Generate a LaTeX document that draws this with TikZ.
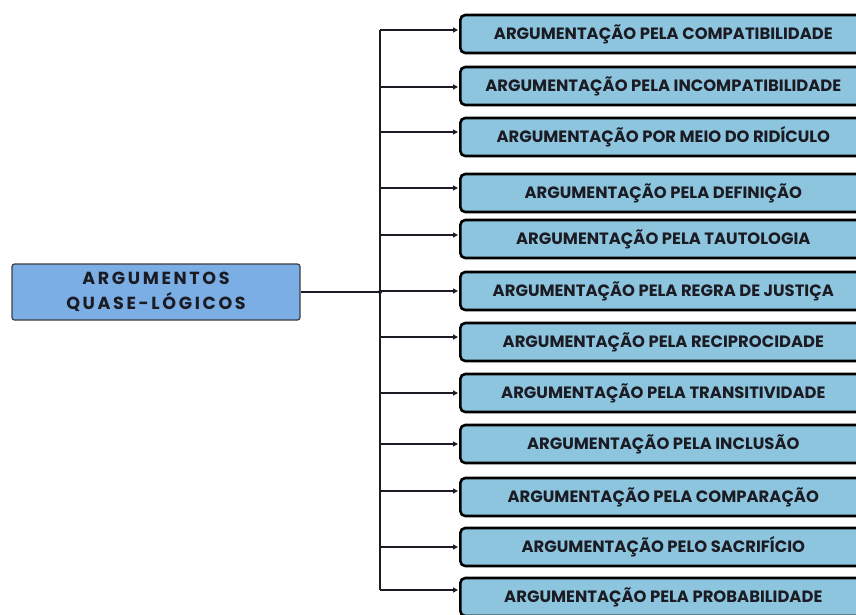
\documentclass[tikz,border=0pt]{standalone}
\usepackage{fontspec}
\setmainfont{Poppins}[BoldFont={* Bold}]
\newfontfamily\spaced{Poppins}[BoldFont={* Bold},LetterSpace=15]
\usetikzlibrary{arrows.meta}
\definecolor{itemfill}{HTML}{8EC5DE}
\definecolor{rootfill}{HTML}{7AAEE5}
\definecolor{ink}{HTML}{1B1B24}
\tikzset{
  itembox/.style={draw=black, line width=2.6pt, fill=itemfill, rounded corners=5pt,
    minimum width=406pt, minimum height=38pt, inner sep=0pt, anchor=west,
    font=\bfseries\fontsize{16.4}{18}\selectfont, text=ink},
  rootbox/.style={draw=ink!85, line width=1.2pt, fill=rootfill, rounded corners=2.5pt,
    minimum width=288pt, minimum height=56pt, inner sep=0pt, align=center,
    font=\spaced\bfseries\fontsize{17.5}{25}\selectfont, text=ink},
  link/.style={line width=1.4pt, draw=ink},
  tip/.style={-{Triangle[length=5pt,width=5pt]}}
}
\begin{document}
\begin{tikzpicture}[x=1pt,y=-1pt]
\useasboundingbox (0,0) rectangle (856,614);
\clip (0,0) rectangle (856,614);
% root node
\node[rootbox] (root) at (156,292) {ARGUMENTOS\\QUASE-LÓGICOS};
% spine of the bracket
\coordinate (top) at (380,30);
\coordinate (bot) at (380,590);
\coordinate (mid) at (380,292);
\draw[link] (top) -- (bot);
\draw[link] (root.east) -- (mid);
\fill[ink] (mid) circle (2pt);
% items: index / centre y / arrow offset / label
\foreach \i/\cy/\dy/\t in {
  1/34/-4/ARGUMENTAÇÃO PELA COMPATIBILIDADE,
  2/86/1/ARGUMENTAÇÃO PELA INCOMPATIBILIDADE,
  3/137/-5/ARGUMENTAÇÃO POR MEIO DO RIDÍCULO,
  4/193/-5/ARGUMENTAÇÃO PELA DEFINIÇÃO,
  5/239/-4/ARGUMENTAÇÃO PELA TAUTOLOGIA,
  6/291/0/ARGUMENTAÇÃO PELA REGRA DE JUSTIÇA,
  7/342/-5/ARGUMENTAÇÃO PELA RECIPROCIDADE,
  8/393/0/ARGUMENTAÇÃO PELA TRANSITIVIDADE,
  9/444/0/ARGUMENTAÇÃO PELA INCLUSÃO,
  10/497/-6/ARGUMENTAÇÃO PELA COMPARAÇÃO,
  11/547/0/ARGUMENTAÇÃO PELO SACRIFÍCIO,
  12/597/-7/ARGUMENTAÇÃO PELA PROBABILIDADE}{
  \node[itembox] (b\i) at (459,\cy) {\t};
  \coordinate (s\i) at (380,{\cy+\dy});
  \draw[link,tip] (s\i) -- ([yshift=-\dy pt,xshift=-1pt]b\i.west);
}
\end{tikzpicture}
\end{document}
